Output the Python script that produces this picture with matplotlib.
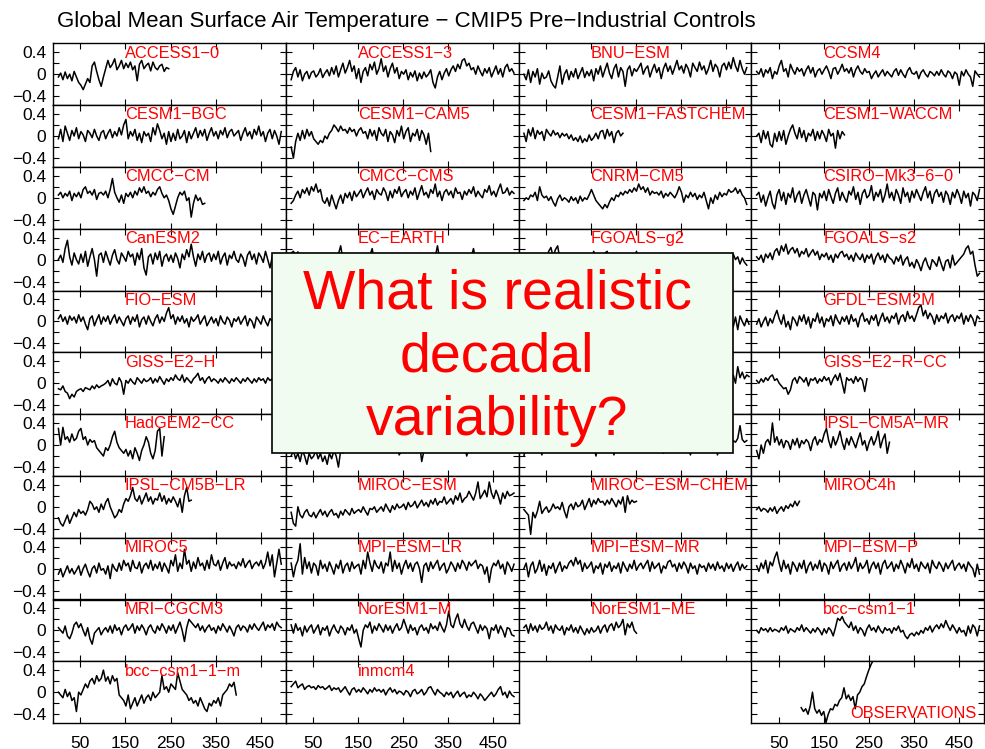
import numpy as np
import matplotlib
matplotlib.use("Agg")
import matplotlib.pyplot as plt
from matplotlib.patches import Rectangle

plt.rcParams['font.family'] = ['Liberation Sans', 'DejaVu Sans']

STEP = 5  # years between stored values; values are hundredths of a degree

ACCESS1_0 = [-5, 2, -10, 4, -8, 0, -12, 5, -5, -15, -20, -28, -18, -8, -15, 15, 22, 5, -10, -22, -5, 10, 25, 12, 18, 28, 8, 15, 25, 10, 20, 12, 22, 8, 15, -12, 18, 25, 10, 16, 20, 6, 22, 12, 8, 15, 18, 5, 12, 10]
ACCESS1_3 = [-10, 5, 12, -5, 8, -12, 0, 5, -8, 3, 6, -5, 0, 10, -6, 2, 8, -3, 12, 0, 15, -5, 8, 20, 2, 12, 25, 5, 15, -8, 10, -15, 5, 12, -3, 18, 8, 22, 0, 10, 28, 5, 15, -5, 10, 20, 2, 12, -8, 5, 0, 8, -10, 3, -5, 6, -12, 2, -8, 4, -5, 0, 8, -15, -25, -5, 5, -10, 2, 10, -3, 8, 15, 5, 18, 10, 25, 28, 15, 20, 8, 12, 0, 15, 5, -3, 10, 2, 12, -5, 5, 15, 0, 10, -5, 12, 18, 5, 10, 2]
BNU_ESM = [0, -10, 8, -15, 5, -5, 10, -18, 2, -8, -5, 6, -12, -20, -25, -5, 15, -18, 0, 8, -10, 5, -5, 10, -8, 2, 12, -6, 5, -3, 8, -12, 10, 0, 15, -5, 8, 20, 2, -8, 10, 18, -5, 12, 5, -22, 8, 15, -3, 10, 5, 12, 20, 0, 10, 15, -5, 8, 18, 3, 12, -8, 10, 20, 5, 15, 0, 12, 25, 8, 15, 2, 18, 10, -5, 20, 12, 5, 22, 8, 15, 0, 10, 25, 5, 18, 12, -5, 15, 20, 8, 22, 10, 30, 15, 5, 25, 10, 0, 12]
CCSM4 = [5, 0, 10, -5, 8, 2, 12, -8, 5, 0, 15, 25, 5, 10, -5, 18, 8, 0, 12, 5, 10, -3, 8, 15, 2, 12, -5, 6, 10, 0, 8, 15, 5, -8, 10, 12, 0, 8, 18, 5, 10, 2, 12, -5, 8, 15, 5, 0, 10, 3, 5, -8, 0, 6, -5, 2, 8, -3, 5, 0, -5, 5, 10, -2, 8, 0, -6, 6, 12, 2, 0, 5, -8, 3, 8, 0, -5, 5, 2, -3, 5, -2, 8, 0, -5, 6, 2, -8, 4, 0, -20, 5, -3, 8, 0, -5, -22, 6, 0, -5]
CESM1_BGC = [-5, 12, -10, 18, 5, -8, 10, 0, 15, -5, 8, 2, -10, 10, 5, -3, 12, 0, -8, 6, 10, -5, 5, 12, -3, 8, 0, 15, 2, 20, 30, -5, 8, 0, 12, -8, 5, -12, 8, 0, 5, -10, 15, 2, 22, 10, -5, 5, -15, 8, -10, 5, -8, 12, -5, 0, 10, -12, 8, -5, 5, 15, -3, 10, 0, 12, -8, 5, 15, 0, 8, -5, 10, 2, 15, -3, 8, 12, 0, 5, 10, -8, 5, 15, 0, 8, -5, 12, 2, 18, 0, 8, -10, 5, 12, -5, 10, 0, -15, 8]
CESM1_CAM5 = [-20, -40, -10, 5, -8, 10, -5, 12, 0, 8, -5, -10, -15, -8, -12, 0, -5, 5, 10, 20, 15, 8, 18, 10, 12, 5, 15, 8, 12, 0, 10, 15, 5, 8, -5, 12, 0, 10, -8, 15, 5, 0, 12, -10, 8, 2, -12, 10, 0, 18, -5, 8, 15, -10, 5, 0, 12, -8, 10, 2, -15, 5, -28]
CESM1_FASTCHEM = [5, -10, 12, 0, 15, -5, 10, 3, 8, -8, 12, 5, 0, 10, 2, 6, -3, 5, 0, 4, -5, 2, -8, -3, -10, 0, -12, -5, -10, 2, -8, -3, 5, -5, 8, 10, -5, 12, 0, 8, -12, 5, 10, 0, 5]
CESM1_WACCM = [0, 5, -12, 10, -5, 8, -15, -20, 5, -10, 8, -8, 10, -15, 0, 12, 20, 5, -5, 15, -3, 10, -10, 5, 0, 12, -8, 8, -5, 10, 2, -10, 12, 0, 5, -22, 10, -5, 8, 2]
CMCC_CM = [5, 10, 0, 8, 3, 12, -5, 8, 2, 10, 0, 15, 20, 8, 12, 5, 15, -3, 8, 10, 5, 12, 0, 15, 35, 10, 0, -8, 5, -10, 8, 2, 10, 0, 12, 5, 18, 10, 20, 8, 12, 2, 10, 5, 15, 20, 8, 0, 5, -5, -20, -30, -15, 0, 10, 5, 12, -5, 0, -35, -10, 5, -5, 0, -12, -10]
CMCC_CMS = [-10, -5, 5, 12, 0, 15, 8, 18, 5, 20, 12, 25, 10, 15, -5, -10, 0, -15, 5, -8, -20, -5, 5, -10, 8, 0, 10, -5, 12, 2, 8, 15, 0, 10, 18, 5, 12, -3, 15, 8, 5, 18, 10, -5, 12, 0, 15, 8, 20, 2, 10, 15, 0, 12, 5, 18, -3, 10, 22, 5, 10, 0, 15, 8, 25, 2, 12, -5, 10, 15, 5, 12, 0, 18, 8, 10, -3, 12, 5, 15, 8, 20, 2, 12, 5, 0, 15, 10, 22, 5, 12, 2, 15, 25, 8, 10, 18, 5, 12, 8]
CNRM_CM5 = [-5, 0, -3, 5, 2, 10, -5, 20, 5, 0, 3, -5, 2, -8, -15, -2, 5, -5, 0, -3, -8, 2, -5, 0, -10, 3, -6, 0, -3, 5, 15, 5, -5, -10, -15, -20, -12, -18, -8, 0, -5, 5, 2, 10, 5, 12, 8, 15, 10, 18, 12, 25, 15, 20, 10, 18, 5, 12, 8, 10, 5, 12, 0, 8, 3, 10, 5, 0, 8, 20, 10, -8, 5, 0, 10, 2, 8, -3, 5, 0, 10, -5, -20, 0, -10, 5, -3, 10, 2, 8, 5, 15, 10, 12, 18, 8, 15, 5, 0, -12]
CSIRO_Mk3_6_0 = [5, 10, -8, 5, -15, 0, 12, -10, -20, 5, 15, -5, 10, -12, 8, 0, 18, -8, 5, 12, -10, 5, 15, 0, -15, 10, 5, -22, 8, 0, 12, -5, 15, 2, -10, 8, 18, -5, 10, 0, -8, 12, 5, 20, -3, 10, -12, 8, 15, 0, 5, 22, -5, 10, 2, 15, -8, 5, 25, 0, 10, -5, 15, 5, -10, 18, 2, 10, -8, 12, 0, 15, 5, -5, 10, 20, 0, 12, -10, 8, 15, 2, 10, -8, 12, 5, -12, 10, 0, 15, 5, -10, 12, 0, 8, -15, 10, 5, -5, 15]
CanESM2 = [0, 8, -5, 20, 35, 5, -10, 12, 0, -8, 10, -5, 15, -12, 5, 20, 0, -30, 8, 12, -5, 15, 2, -10, 8, 18, 0, -8, 12, 5, -3, 15, 5, 10, -10, 12, 0, 20, -15, -28, 5, 10, -8, 12, 0, 15, -12, 5, 10, -3, 8, -5, 12, 2, -15, 10, 0, 18, 5, 28, 5, -12, 10, 0, 15, -5, 8, 12, -3, 10, 0, 15, -8, 5, 12, -10, 8, 2, 15, 0, -5, 10, 3, -12, 8, 15, 0, 10, -8, 12, 5, -5, 15, 0, -15, 5]
EC_EARTH = [12, 15, 8, 14, 0, -5, 5, -8, 3, 0, -5, 5, -10, 0, 8, -5, 2, -8, 5, 0, 5, 10, 25, 0, -5, 8, -10, 5, 0, -8, 5, -5, 10, 0, 5, 8, 20, -5, 0, 8, -5, 5, 0, -10, 8, 2, -5, 5, 0, 10, -5, 0, 8, -8, 5, 0, -5, 10, 2, 0, 5, -8, 10, 0, 5, 25, 0, -5, 8, 0, -5, 5, 0, 10, -8, 5, 0, -3, 8, 2, 5, 20, 0, -5, 8, 0, -10, 5, 2, 0, 5, -5, 8, 0, -5, 10, 0, 5, -8, 0]
FGOALS_g2 = [10, 0, 5, -5, 8, 0, -3, 5, 0, 2, -5, 15, 22, 5, 18, 25, 0, 8, -5, 5, 0, -8, 5, 0, 10, -5, 2, 8, -3, 5, 0, 15, 5, -5, 10, 0, 12, 15, 0, 5, -5, 8, 0, 5, -8, 10, 0, 5, 2, -5, 15, 0, 10, -5, 5, 0, 8, -3, 5, 0, 5, -5, 10, 0, 3, -8, 5, 0, 8, -5, 0, 5, -3, 8, 0, -5, 5, 2, -8, 0, 5, -5, 0, 8, -3, 5, 0, -8, 5, 0, 5, 8, -5, 10, 0, 5, -8, 3, -5, -10]
FGOALS_s2 = [5, 0, 8, -5, 10, 3, 12, 0, 15, 20, 8, 25, 15, 28, 10, 18, 22, 12, 20, 5, 15, 10, 20, 5, 12, 18, 8, 15, 0, 10, 5, 12, 0, 8, -5, 10, 3, 12, 15, 5, 10, 0, 8, -3, 12, 5, 0, 10, -5, 8, 2, 10, -8, 5, 12, 0, 8, -5, 10, 3, 0, -8, 5, -3, 8, -10, 0, 5, -12, -5, -15, 0, -8, -20, -5, 3, -10, -18, 0, -5, -12, 5, -8, -20, -3, 0, -15, 8, -10, -5, 0, 5, 10, 20, 25, 10, 15, -10, -30, -25]
FIO_ESM = [5, 12, 0, 8, -5, 10, 2, 8, -3, 12, 0, 8, -5, -15, 5, 10, -8, 3, 12, -5, 8, 0, 10, -5, 5, 12, -3, 8, 0, -8, 5, 10, -5, 8, 0, 12, -10, 3, 8, -5, 10, 0, -8, 5, 12, -3, 8, 0, 15, 25, 5, 12, -5, 8, 0, 10, -3, 5, -10, 8, 0, 5, 12, -5, 3, 10, -8, 0, 8, -3, 5, -8, 10, 0, -5, 8, 2, -10, 5, 0, 8, -5, 3, 10, -8, 5, 0, -12, 8, 2, -5, 10, 0, -8, 5, 0]
GFDL_CM3 = []
GFDL_ESM2G = [5, -10, 8, -15, 10, 0, -8, 5, -5]
GFDL_ESM2M = [-5, 5, -10, 0, 8, -8, 5, -3, 10, 20, 5, -5, 12, -10, 0, -15, 8, 2, -8, 10, 0, 12, -5, 8, -12, 5, 0, 15, -3, 8, -10, 5, 0, 10, -8, 12, 2, -5, 8, 0, 10, -5, 12, 0, 5, -10, 8, 15, 0, 5, -5, 10, 2, 12, -8, 5, 15, 0, 8, -3, 10, 5, 15, -5, 8, 12, 0, 18, 5, 10, 0, 12, 25, 30, 10, 20, 5, 15, 8, -5, 12, 0, 10, 5, 15, -3, 8, 12, 0, 10, 5, 15, -5, 10, 0, 12, 5, -8, 10, 5]
GISS_E2_H = [-10, -12, -5, -15, -18, -28, -20, -25, -15, -12, -10, -15, -8, -10, -12, -5, -10, -3, -8, -5, -3, 0, 5, -5, 8, 0, -3, 10, 2, -20, 5, 0, 8, 2, -2, 10, 5, 0, 8, 3, 5, 10, 0, 8, 2, 12, 5, -2, 8, 3, 10, 5, 15, 8, 5, 15, 2, 10, 5, 0, 8, 12, 18, 5, 10, 0, 8, 12, 3, 8, 5, 0, 8, 2, 10, 5, 0, 8, 3, 10, 5, 0, 8, 3, 10, 5, 0, 8, 2, 10, 5, 8, 0, 10, 5, 8]
GISS_E2_H_CC = []
GISS_E2_R = [5, 15, 0, 30, 10, 20, 8, 15, 12]
GISS_E2_R_CC = [5, 0, 8, 2, 10, 5, 12, 15, 5, 8, 0, -5, -10, -8, -20, -12, 5, 10, 0, 12, 8, 2, 10, -5, 8, 5, 10, 0, 8, 3, 12, 5, 10, -3, 8, 15, 5, 18, 0, -18, 10, 5, 8, 0, 12, 3, 10, 5, -15, 8]
HadGEM2_CC = [30, 0, 32, 10, 15, 5, 20, 8, 12, 25, 30, 10, 15, 0, 10, 5, 8, -5, -10, -15, -20, -5, -10, 0, 15, 25, 5, -5, -10, -15, -8, -20, -10, -25, -5, -15, -28, -10, 0, 15, 5, -15, -25, -10, 25, 30, -20, 15]
HadGEM2_ES = [-20, -10, -25, -15, -30, -10, -20, -35, -15, -25, -20, -10, -25, -15, -30, -20, -35, -15, -25, -10, -20, -40, -10, -15, -5, 0, -10, -5, 0, 5, 0, -5, 5, -10, 0, 5, -5, 0, -8, 0, 5, -5, 0, -10, 5, 0, -5, 0, -18, -10, 0, -5, 5, 0, -8, 0, -5, 5, -30, -10, 0, 5, -5, 0, -10, 5, 0, -8, 0, 5, -5, 0, 5, -10, 0, -5, 5, 0, -20, -5, 0, 5, -5, 0, -8, 5, 0, -5, 0, 5, -5, 0, 5, -8, 0, 5, -5, 0, 5, 0]
IPSL_CM5A_LR = [-20, 0, 5, -5, 10, 0, 8, -3, -18, 5, 0, 8, -5, 5, 10, 0, -5, 8, 2, 5, 10, 0, 5, -5, 8, 2, 10, -3, 5, 0, 8, 2, -20, 5, 10, 0, 8, -5, 5, 2, -18, 5, 10, 0, 8, -3, 5, 10, 0, 5, 8, 0, 5, 10, -5, 5, 0, 8, 2, 10, 5, 0, -15, 5, 10, 0, 8, -3, 5, 10, 0, 8, 5, -5, -18, 5, 10, 0, 8, 5, 10, 0, 5, 8, -3, 5, -18, 10, 0, 8, 5, 10, 0, 8, 5, 12, 35, 10, 5, 8]
IPSL_CM5A_MR = [-10, -25, 0, -15, 5, 10, 0, 40, 5, 15, 0, 10, -5, 8, 5, -8, 10, 0, 12, -5, 8, 2, 10, 5, -10, 8, 15, 0, 10, 5, 20, 30, 8, -5, 15, 0, 10, 25, 5, -8, 12, 0, 15, 5, -5, 10, 22, 0, 8, -10, 5, 15, 0, 10, 25, -5, 10, 20, -15, 5]
IPSL_CM5B_LR = [-20, -30, -35, -25, -15, -30, -20, -10, -18, -5, -12, -8, -15, -5, 10, 5, -5, 0, -10, 5, -5, 8, 15, 0, -10, -20, -15, -5, -10, 5, 15, 10, 20, 35, 15, 10, 20, 5, 15, 25, 10, 18, 5, 15, 12, 25, 10, 20, 5, 15, 8, 18, 10, 0, 15, -10, 20, 35, 10, 12]
MIROC_ESM = [-10, -30, -35, 0, -15, -20, -10, -5, -15, -18, -10, -20, -12, -5, -15, -8, -18, -10, -5, -15, -12, -20, -8, -15, -5, -10, -15, -3, -12, -8, -5, -10, 0, -8, -15, -3, -5, 0, -10, -5, 0, -8, 5, -3, -10, 2, -5, 5, -2, 0, 5, -5, 8, 0, 3, 10, -2, 5, 12, 2, 8, 0, 12, 5, 15, 3, 10, 8, 18, 5, 10, 15, 5, 20, 12, 25, 8, 15, 18, 28, 20, 12, 25, 45, 15, 22, 30, 18, 45, 25, 15, 30, 20, 5, 25, 15, 28, 20, 22, 25]
MIROC_ESM_CHEM = [-5, -10, -15, -50, -10, -20, -8, 10, -12, -5, 0, -10, -5, 5, -3, 0, -5, 8, -8, -20, 0, 5, -5, 8, 0, 3, 12, -5, 5, 15, 0, 12, 5, 15, 8, 10, 3, 12, 5, 15, 8, 0, 12, 5, 18, -10, 20, 5, 12, 8, 10]
MIROC4h = [-5, 0, -8, -3, -5, -10, -2, -8, 0, -12, -5, 0, -8, 2, -3, 5, 0, 10, 2, 10]
MIROC5 = [-10, 0, -15, -5, 5, -8, 0, -10, -3, 5, -12, 0, 8, -5, -15, 0, 5, -8, 10, -3, 0, -10, 5, -18, 8, 0, -5, 10, -3, 15, 5, 10, -5, 15, 2, 0, 12, -8, 5, 10, 0, 15, -3, 8, 0, 12, -5, 10, 2, -8, 15, 5, 25, -5, 10, 0, 35, 8, 15, -5, 12, 0, 20, 5, 10, -3, 15, 0, 25, 8, 5, 15, -3, 10, 20, 0, 12, 5, 8, 0, 12, 5, 18, 2, 10, 15, 0, 8, 12, 5, 15, 0, 10, 30, 5, 25, -15, 10, 35, 8]
MPI_ESM_LR = [10, -15, 5, 15, 45, -10, 20, 0, 12, -8, 10, 5, -12, 15, 0, 8, -5, 12, 2, -10, 8, 0, 15, -8, 5, 10, -5, 12, 0, 5, 8, -10, 15, 0, 30, 10, -5, 15, 5, 0, 12, -8, 10, 5, 30, -5, 15, 0, 10, -10, 5, 15, 0, 10, -5, 8, 12, 0, -25, 5, 10, -5, 12, 0, 8, 15, -3, 5, 10, -8, 0, 12, 5, -5, 10, 0, 15, 8, -3, 12, 5, 10, 15, 0, 8, 5, -10, 3, -25, 0, 10, 5, 15, 0, 8, -10, 12, 5, -5, 8]
MPI_ESM_MR = [0, 10, -15, 5, 12, -8, 0, 15, -5, 8, -12, 5, 0, 10, -8, 3, 12, -5, 5, 0, 10, 15, 5, 20, 8, 15, -5, 10, 0, 5, 12, -8, 5, 0, 10, -10, 8, 2, 12, -5, 5, 0, 10, -8, 12, 3, -5, 8, 0, 15, -3, 5, 10, 0, 8, 15, -5, 12, 0, 5, 10, -8, 5, 0, 12, 15, 3, 8, -5, 10, 0, 12, 5, -8, 10, 0, 5, -10, 8, 2, 5, -5, 10, 0, 8, -3, 12, 0, 5, -5, 10, 0, 8, -5, 5, 12, -3, 8, 0, 5]
MPI_ESM_P = [5, -5, 10, 0, 15, -8, 12, 5, 20, 30, 10, -5, 15, 0, 8, -10, 12, 5, -5, 10, 0, 15, -8, 5, 12, -3, 8, 0, 15, -5, 10, 5, -10, 12, 0, 8, 15, -5, 5, 10, -3, 12, 0, 8, 20, -5, 10, 0, 5, 15, -8, 5, 12, 0, 10, -10, 8, 15, 0, 5, 12, -5, 8, 0, 15, 5, -8, 10, 2, 18, 0, 8, -5, 12, 5, 0, 10, -8, 15, 5, 0, 12, 5, -5, 10, 0, 8, 15, -3, 5, 10, 0, 8, -5, 12, 5, 0, -15, 8, -10]
MRI_CGCM3 = [5, 0, -5, 8, -10, -15, -5, 10, 15, 5, 12, 0, -10, 5, -15, -25, -5, 0, 5, -8, 0, 5, -3, 8, -5, 10, 0, 5, -8, 5, 10, 0, 5, 12, -5, 8, 0, 10, 3, -8, 5, 10, 0, -5, 8, 0, 12, 5, -5, 8, 0, 10, -5, 5, 15, 0, -20, 5, 20, 15, 10, 5, 12, 0, 8, -3, 5, 10, 0, 5, -5, 8, 0, 12, 5, -3, 8, 0, -10, 5, 10, 0, 8, 5, -3, 10, 2, 12, 5, 0, 8, 15, 0, 10, 5, 12, 0, 15, 8, 5]
NorESM1_M = [10, -5, 12, 0, 5, -10, 8, -3, 5, 10, -5, 3, 10, -8, 5, 0, 8, -10, 2, 10, 0, -5, 8, 3, -8, 5, 0, 10, -5, 2, -15, -30, 0, 10, 5, 15, -5, 8, 0, 12, 5, -3, 10, 0, 8, -5, 5, 12, 0, 5, 20, 8, -5, 10, 0, 5, -8, 5, 10, 0, 5, -5, 12, 3, 8, 0, 15, 5, -3, 10, 35, 10, 5, 20, 30, 12, 5, 20, 8, 0, 12, 15, 5, -5, 10, 0, 8, 3, -15, 5, 0, 10, -5, 8, 0, -12, 5, 3, -8, -10]
NorESM1_ME = [5, 10, -5, 12, 0, 8, -3, 10, 2, 5, 15, 0, 8, -5, 10, 3, 0, 8, -8, 5, 0, 10, -3, 5, -5, 8, 0, -8, 3, -5, 5, -3, 0, 8, -5, 5, 10, -3, 8, 12, 0, 15, 5, 10, 20, -8, 12, 5, 15, 0, -5]
bcc_csm1_1 = [0, -5, 5, 0, 3, -3, 5, -2, 2, 0, -3, 5, 0, 8, -5, 3, 0, -3, 5, 0, 10, -2, 5, 0, -5, 3, -3, 5, 0, -8, 3, -5, 5, 0, -10, 5, 22, 18, 25, 15, 10, 5, 15, 0, 8, -5, 5, 0, -10, 3, 10, 0, 5, -3, 8, 0, -5, 5, 0, 3, -5, 5, 0, 8, -3, 0, -10, -15, -8, -5, -10, -3, -8, 0, -5, 5, 0, 8, -3, 5, 10, 3, 12, 5, 18, 8, 0, 10, 3, -5, 5, -3, 0, -10, 8, -5, 10, 5, -10, 8]
bcc_csm1_1_m = [0, -5, -10, 5, -8, 0, -15, -10, -35, 0, -5, 5, 15, 8, 20, 25, 15, 30, 20, 25, 40, 20, 28, 15, 30, 20, 25, -5, -10, -15, -25, -5, -30, -20, -10, -25, -15, -5, -20, -10, -5, -15, 0, -10, -5, 0, 30, 5, 10, 0, 15, 10, 5, 35, 20, 5, 0, -5, -15, -10, -20, -15, -25, -10, -20, -30, -35, -20, -25, -15, -20, -10, -25, -5, 0, 5, 15, 10, 18, -5]
inmcm4 = [10, 15, 20, 8, 12, 15, 5, 10, 12, 8, 10, 5, 12, 8, 10, 5, 8, 12, 3, 8, 5, 8, 0, 5, 10, 2, -5, 5, 8, 0, 5, 0, 8, 3, -3, 5, 0, 8, 2, 5, 0, 5, -5, 3, 8, 0, 5, -3, 2, 0, -5, 3, 0, -8, 2, 5, -3, 0, 5, -5, 0, 8, 10, 2, -5, 5, 0, -3, -8, 0, -5, 0, -10, -3, 2, -8, -3, 0, -10, -5, -8, 0, -5, -12, -3, -8, -15, -10, -5, 0, -8, -3, 5, 10, -5, 0, -10, 2, -5, -8]
OBSERVATIONS = [-28, -35, -30, -40, -25, 0, -30, -38, -32, -42, -35, -55, -40, -30, -32, -22, -25, -15, -10, 8, -12, -5, -15, -8, -30, -5, 0, 10, 15, 28, 40, 50, 58]

names = ["ACCESS1-0", "ACCESS1-3", "BNU-ESM", "CCSM4",
         "CESM1-BGC", "CESM1-CAM5", "CESM1-FASTCHEM", "CESM1-WACCM",
         "CMCC-CM", "CMCC-CMS", "CNRM-CM5", "CSIRO-Mk3-6-0",
         "CanESM2", "EC-EARTH", "FGOALS-g2", "FGOALS-s2",
         "FIO-ESM", "GFDL-CM3", "GFDL-ESM2G", "GFDL-ESM2M",
         "GISS-E2-H", "GISS-E2-H-CC", "GISS-E2-R", "GISS-E2-R-CC",
         "HadGEM2-CC", "HadGEM2-ES", "IPSL-CM5A-LR", "IPSL-CM5A-MR",
         "IPSL-CM5B-LR", "MIROC-ESM", "MIROC-ESM-CHEM", "MIROC4h",
         "MIROC5", "MPI-ESM-LR", "MPI-ESM-MR", "MPI-ESM-P",
         "MRI-CGCM3", "NorESM1-M", "NorESM1-ME", "bcc-csm1-1",
         "bcc-csm1-1-m", "inmcm4", None, "OBSERVATIONS"]
series = [ACCESS1_0, ACCESS1_3, BNU_ESM, CCSM4,
          CESM1_BGC, CESM1_CAM5, CESM1_FASTCHEM, CESM1_WACCM,
          CMCC_CM, CMCC_CMS, CNRM_CM5, CSIRO_Mk3_6_0,
          CanESM2, EC_EARTH, FGOALS_g2, FGOALS_s2,
          FIO_ESM, GFDL_CM3, GFDL_ESM2G, GFDL_ESM2M,
          GISS_E2_H, GISS_E2_H_CC, GISS_E2_R, GISS_E2_R_CC,
          HadGEM2_CC, HadGEM2_ES, IPSL_CM5A_LR, IPSL_CM5A_MR,
          IPSL_CM5B_LR, MIROC_ESM, MIROC_ESM_CHEM, MIROC4h,
          MIROC5, MPI_ESM_LR, MPI_ESM_MR, MPI_ESM_P,
          MRI_CGCM3, NorESM1_M, NorESM1_ME, bcc_csm1_1,
          bcc_csm1_1_m, inmcm4, None, OBSERVATIONS]
# first year of each stored series
start_year = {"GFDL-ESM2G": 461, "GISS-E2-R": 461, "OBSERVATIONS": 100}
# panels whose name label sits under the question box (not visible)
covered = {"GFDL-CM3", "GFDL-ESM2G", "GISS-E2-H-CC", "GISS-E2-R",
           "HadGEM2-ES", "IPSL-CM5A-LR"}

xticks = [50, 150, 250, 350, 450]
yticks = [-0.4, -0.2, 0, 0.2, 0.4]
ytick_labels = ["\u22120.4", "", "0", "", "0.4"]

title = "Global Mean Surface Air Temperature \u2212 CMIP5 Pre\u2212Industrial Controls"
question = "What is realistic\ndecadal\nvariability?"

W, H = 985, 749
fig = plt.figure(figsize=(W / 100, H / 100), dpi=100)
left0, colw, top0, rowh = 53, 232.75, 43.3, 61.8
RED = "#ff0000"

for idx, (name, vals) in enumerate(zip(names, series)):
    if name is None:
        continue
    r, c = divmod(idx, 4)
    ax = fig.add_axes([(left0 + c * colw) / W, 1 - (top0 + (r + 1) * rowh) / H,
                       colw / W, rowh / H])
    if vals:
        y = np.array(vals) / 100.0
        x = start_year.get(name, 1) + STEP * np.arange(len(y))
        ax.plot(x, y, color="black", lw=1.1)
    ax.set_xlim(-11, 506)
    ax.set_ylim(-0.56, 0.56)
    ax.set_xticks(xticks)
    ax.set_yticks(yticks)
    ax.tick_params(direction="in", top=True, right=True, length=4, width=0.8,
                   labelsize=12.5, pad=5)
    ax.tick_params(axis="x", pad=9)
    for s in ax.spines.values():
        s.set_linewidth(1.0)
    if c == 0:
        ax.set_yticklabels(ytick_labels)
    else:
        ax.set_yticklabels([])
    if r == 10:
        ax.set_xticklabels([str(t) for t in xticks])
    else:
        ax.set_xticklabels([])
    if name in covered:
        continue
    label = name.replace("-", "\u2212")
    if name == "OBSERVATIONS":
        ax.text(0.426, 0.08, label, transform=ax.transAxes, color=RED,
                fontsize=11.8, va="baseline", ha="left")
    else:
        ax.text(0.309, 0.77, label, transform=ax.transAxes, color=RED,
                fontsize=11.8, va="baseline", ha="left")

fig.text(57 / W, 1 - 27 / H, title, fontsize=16, va="baseline", ha="left")

box = Rectangle((272 / W, 1 - 453 / H), (733 - 272) / W, 200 / H,
                transform=fig.transFigure, facecolor="#f1fcf1",
                edgecolor="black", lw=1.2, zorder=10)
fig.patches.append(box)
fig.text(497 / W, 1 - 358 / H, question, fontsize=40, color=RED,
         ha="center", va="center", multialignment="center",
         linespacing=1.28, zorder=11)

fig.savefig("out.png", dpi=100)
